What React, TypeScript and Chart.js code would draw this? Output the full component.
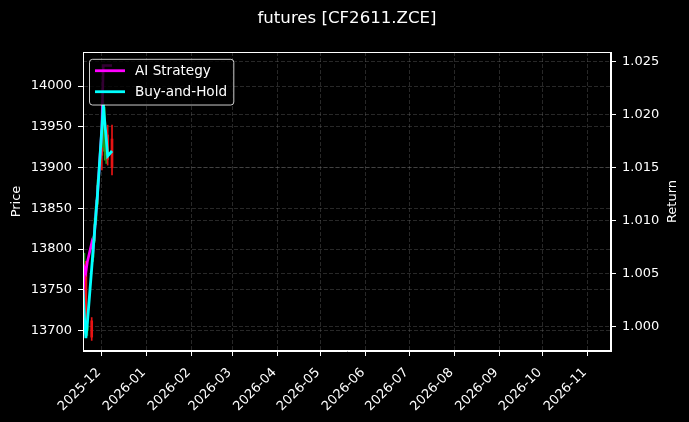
import React, { useEffect, useRef } from 'react';
import { Chart, registerables } from 'chart.js';

Chart.register(...registerables);

// ---- data ----
const dates = [
  '2025-11-18', '2025-11-19', '2025-11-20', '2025-11-21', '2025-11-24',
  '2025-11-25', '2025-11-26', '2025-11-27', '2025-11-28', '2025-12-01',
  '2025-12-02', '2025-12-03', '2025-12-04', '2025-12-05', '2025-12-08',
];
const openP = [13740, 13735, 13775, 13700, 13712, 13790, 13810, 13835, 13855, 13945, 13925, 13925, 13915, 13940, 13935];
const highP = [13760, 13795, 13785, 13712, 13716, 13815, 13838, 13860, 13885, 13955, 13982, 13974, 13945, 13952, 13952];
const lowP = [13730, 13705, 13700, 13694, 13688, 13785, 13808, 13830, 13852, 13897, 13920, 13909, 13905, 13903, 13891];
const closeP = [13752, 13775, 13710, 13706, 13692, 13808, 13830, 13852, 13878, 13915, 13978, 13955, 13935, 13910, 13900];

const aiStrategy = [1.00252, 1.00554, 1.00516, 1.0061, 1.0079, 1.00733, 1.00903, 1.01082, 1.01252, 1.01874, 1.02465, 1.02465, 1.02465, 1.02465, 1.02465];
const buyHold = [1.00346, 1.00082, 0.99893, 1.00035, 1.00554, 1.00733, 1.00903, 1.01082, 1.01252, 1.01874, 1.02101, 1.0193, 1.0178, 1.0161, 1.01658];

const monthTicks = [
  '2025-12', '2026-01', '2026-02', '2026-03', '2026-04', '2026-05',
  '2026-06', '2026-07', '2026-08', '2026-09', '2026-10', '2026-11',
];
const priceTicks = [13700, 13750, 13800, 13850, 13900, 13950, 14000];
const returnTicks = [1.0, 1.005, 1.01, 1.015, 1.02, 1.025];

const xStart = '2025-11-18';
const xEnd = '2026-11-17';
const priceRange = [13675, 14041.7];
const returnRange = [0.99771, 1.02592];

const chartTitle = 'futures [CF2611.ZCE]';
const legendLabels = ['AI Strategy', 'Buy-and-Hold'];

// ---- styles ----
const FONT = 'DejaVu Sans';
const WHITE = '#ffffff';
const GRID = 'rgba(120,120,120,0.42)';
const UP = '#1f9a1f';
const DOWN = '#e81414';
const MAGENTA = '#ff00ff';
const CYAN = '#00ffff';

const dayOf = (s: string) => Date.parse(s + 'T00:00:00Z') / 86400000;

export default function App() {
  const ref = useRef<HTMLCanvasElement | null>(null);

  useEffect(() => {
    document.body.style.margin = '0';
    document.body.style.background = '#000';
    const canvas = ref.current;
    if (!canvas) return;

    const xs = dates.map(dayOf);
    const monthDays = monthTicks.map((m) => dayOf(m + '-01'));
    const labelMap: Record<string, string> = {};
    monthDays.forEach((d, i) => (labelMap[String(d)] = monthTicks[i]));

    const candleColors = dates.map((_, i) => (closeP[i] >= openP[i] ? UP : DOWN));
    const wicks = dates.map((_, i) => ({ x: xs[i], y: [lowP[i], highP[i]] }));
    const bodies = dates.map((_, i) => ({
      x: xs[i],
      y: [Math.min(openP[i], closeP[i]), Math.max(openP[i], closeP[i])],
    }));
    const aiPts = dates.map((_, i) => ({ x: xs[i], y: aiStrategy[i] }));
    const bhPts = dates.map((_, i) => ({ x: xs[i], y: buyHold[i] }));

    const tickFont = { family: FONT, size: 13 };

    const bgPlugin = {
      id: 'bg',
      beforeDraw(chart: any) {
        const { ctx, width, height } = chart;
        ctx.save();
        ctx.fillStyle = '#000';
        ctx.fillRect(0, 0, width, height);
        ctx.restore();
      },
    };

    const framePlugin = {
      id: 'frameLegend',
      afterDraw(chart: any) {
        const { ctx, chartArea } = chart;
        const { left, top, right, bottom } = chartArea;
        ctx.save();
        // spines
        ctx.strokeStyle = WHITE;
        ctx.lineWidth = 1;
        ctx.strokeRect(Math.round(left) + 0.5, Math.round(top) + 0.5, Math.round(right - left) - 1, Math.round(bottom - top) - 1);

        // axis titles
        ctx.fillStyle = WHITE;
        ctx.font = `13px "${FONT}"`;
        ctx.textAlign = 'center';
        ctx.textBaseline = 'middle';
        const cy = (top + bottom) / 2;
        ctx.save();
        ctx.translate(17, cy);
        ctx.rotate(-Math.PI / 2);
        ctx.fillText('Price', 0, 0);
        ctx.restore();
        ctx.save();
        ctx.translate(673, cy);
        ctx.rotate(-Math.PI / 2);
        ctx.fillText('Return', 0, 0);
        ctx.restore();

        // legend
        const lx = left + 6.5;
        const ly = top + 7.3;
        const lw = 144.3;
        const lh = 45.7;
        const r = 3;
        ctx.beginPath();
        ctx.moveTo(lx + r, ly);
        ctx.lineTo(lx + lw - r, ly);
        ctx.arcTo(lx + lw, ly, lx + lw, ly + r, r);
        ctx.lineTo(lx + lw, ly + lh - r);
        ctx.arcTo(lx + lw, ly + lh, lx + lw - r, ly + lh, r);
        ctx.lineTo(lx + r, ly + lh);
        ctx.arcTo(lx, ly + lh, lx, ly + lh - r, r);
        ctx.lineTo(lx, ly + r);
        ctx.arcTo(lx, ly, lx + r, ly, r);
        ctx.closePath();
        ctx.fillStyle = 'rgba(0,0,0,0.8)';
        ctx.fill();
        ctx.strokeStyle = 'rgba(255,255,255,0.8)';
        ctx.lineWidth = 1;
        ctx.stroke();

        const rows = [
          { label: legendLabels[0], color: MAGENTA, y: ly + 11.4 },
          { label: legendLabels[1], color: CYAN, y: ly + 32.4 },
        ];
        rows.forEach((row) => {
          ctx.strokeStyle = row.color;
          ctx.lineWidth = 2.8;
          ctx.beginPath();
          ctx.moveTo(lx + 5.5, row.y);
          ctx.lineTo(lx + 35.5, row.y);
          ctx.stroke();
          ctx.fillStyle = WHITE;
          ctx.font = `13.6px "${FONT}"`;
          ctx.textAlign = 'left';
          ctx.textBaseline = 'middle';
          ctx.fillText(row.label, lx + 45.5, row.y + 0.5);
        });
        ctx.restore();
      },
    };

    const gridBase = {
      color: GRID,
      lineWidth: 0.8,
      tickColor: WHITE,
      tickLength: 5,
      tickWidth: 1,
      offset: false,
    };
    const borderBase = { color: WHITE, width: 1, dash: [4, 2] };

    const chart = new Chart(canvas, {
      type: 'line',
      data: {
        datasets: [
          {
            type: 'line',
            label: legendLabels[1],
            data: bhPts,
            yAxisID: 'y1',
            borderColor: CYAN,
            borderWidth: 2.8,
            pointRadius: 0,
            tension: 0,
            order: 0,
          } as any,
          {
            type: 'line',
            label: legendLabels[0],
            data: aiPts,
            yAxisID: 'y1',
            borderColor: MAGENTA,
            borderWidth: 2.6,
            pointRadius: 0,
            tension: 0,
            order: 1,
          } as any,
          {
            type: 'bar',
            label: 'body',
            data: bodies,
            yAxisID: 'y',
            backgroundColor: candleColors,
            borderWidth: 0,
            barThickness: 2,
            grouped: false,
            order: 2,
          } as any,
          {
            type: 'bar',
            label: 'wick',
            data: wicks,
            yAxisID: 'y',
            backgroundColor: candleColors,
            borderWidth: 0,
            barThickness: 1,
            grouped: false,
            order: 3,
          } as any,
        ],
      },
      options: {
        responsive: false,
        animation: false,
        events: [],
        layout: { padding: 0 },
        plugins: {
          legend: { display: false },
          tooltip: { enabled: false },
          title: {
            display: true,
            text: chartTitle,
            color: WHITE,
            fullSize: false,
            font: { family: FONT, size: 16.6, weight: 'normal' },
            padding: { top: 8.4, bottom: 23.7 },
          },
        },
        scales: {
          x: {
            type: 'linear',
            min: dayOf(xStart),
            max: dayOf(xEnd),
            offset: false,
            grid: gridBase,
            border: borderBase,
            ticks: {
              color: WHITE,
              font: tickFont,
              autoSkip: false,
              maxRotation: 45,
              minRotation: 45,
              padding: 9,
              labelOffset: -3,
              callback: (v: any) => labelMap[String(v)] ?? '',
            },
            afterBuildTicks: (s: any) => {
              s.ticks = monthDays.map((v) => ({ value: v }));
            },
            afterFit: (s: any) => {
              s.height = 71;
            },
          } as any,
          y: {
            type: 'linear',
            position: 'left',
            min: priceRange[0],
            max: priceRange[1],
            grid: gridBase,
            border: borderBase,
            ticks: {
              color: WHITE,
              font: tickFont,
              padding: 6,
              callback: (v: any) => String(v),
            },
            afterBuildTicks: (s: any) => {
              s.ticks = priceTicks.map((v) => ({ value: v }));
            },
            afterFit: (s: any) => {
              s.width = 83;
            },
          } as any,
          y1: {
            type: 'linear',
            position: 'right',
            min: returnRange[0],
            max: returnRange[1],
            grid: gridBase,
            border: borderBase,
            ticks: {
              color: WHITE,
              font: tickFont,
              padding: 6,
              callback: (v: any) => Number(v).toFixed(3),
            },
            afterBuildTicks: (s: any) => {
              s.ticks = returnTicks.map((v) => ({ value: v }));
            },
            afterFit: (s: any) => {
              s.width = 78;
            },
          } as any,
        },
      },
      plugins: [bgPlugin, framePlugin],
    });

    return () => chart.destroy();
  }, []);

  return (
    <div style={{ width: 689, height: 422, background: '#000' }}>
      <canvas ref={ref} width={689} height={422} style={{ display: 'block', width: 689, height: 422 }} />
    </div>
  );
}
